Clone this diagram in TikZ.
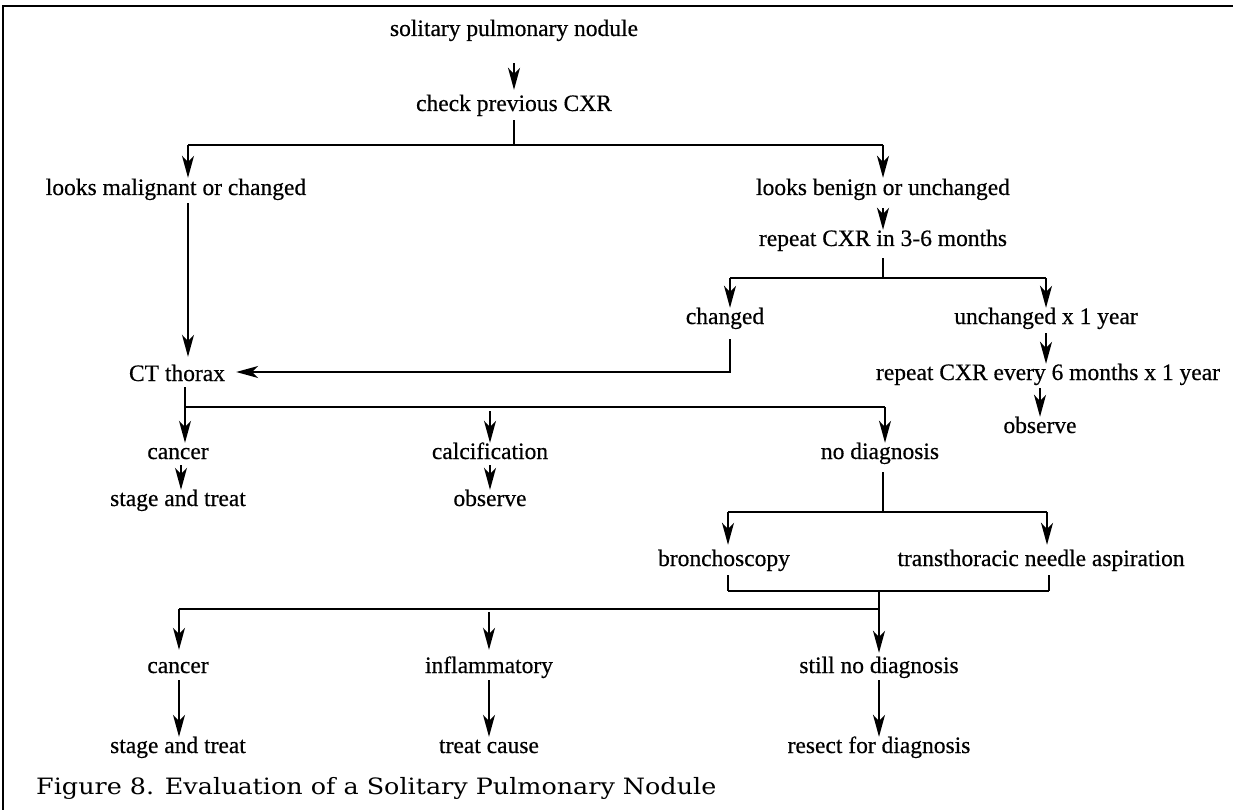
\documentclass[tikz,border=0pt]{standalone}
\usepackage{fontspec}
\setmainfont[FakeBold=0.5]{Liberation Serif}
\newfontfamily\capfont[FakeStretch=1.13]{DejaVu Serif}
\usetikzlibrary{arrows.meta,calc}

\tikzset{
  lbl/.style={inner sep=0pt, anchor=base, text height=16pt, text depth=5pt,
              font=\fontsize{23.5}{28}\selectfont},
  conn/.style={line width=1.5pt},
  arr/.style={conn, -{Stealth[length=22pt,width=12pt,inset=6pt]}},
  frame/.style={line width=1.8pt},
}

\begin{document}
\begin{tikzpicture}[x=1pt,y=-1pt]
\useasboundingbox (0,0) rectangle (1233,810);
\draw[frame] (3,810) -- (3,6) -- (1233,6);

% --- texts ---
\node[lbl] (sol)   at (514,36)  {solitary pulmonary nodule};
\node[lbl] (chk)   at (514,111) {check previous CXR};
\node[lbl] (lm)    at (176,195) {looks malignant or changed};
\node[lbl] (lb)    at (883,195) {looks benign or unchanged};
\node[lbl] (r36)   at (883,246) {repeat CXR in 3-6 months};
\node[lbl] (chg)   at (725,324) {changed};
\node[lbl] (unch)  at (1046,324) {unchanged x 1 year};
\node[lbl] (ct)    at (177,381) {CT thorax};
\node[lbl] (r6)    at (1048,380) {repeat CXR every 6 months x 1 year};
\node[lbl] (obsA)  at (1040,433) {observe};
\node[lbl] (canA)  at (178,459) {cancer};
\node[lbl] (calc)  at (490,459) {calcification};
\node[lbl] (nodx)  at (880,459) {no diagnosis};
\node[lbl] (stA)   at (178,506) {stage and treat};
\node[lbl] (obsB)  at (490,506) {observe};
\node[lbl] (bron)  at (724,566) {bronchoscopy};
\node[lbl] (tna)   at (1041,566) {transthoracic needle aspiration};
\node[lbl] (canB)  at (178,673) {cancer};
\node[lbl] (infl)  at (489,673) {inflammatory};
\node[lbl] (still) at (879,673) {still no diagnosis};
\node[lbl] (stB)   at (178,753) {stage and treat};
\node[lbl] (tc)    at (489,753) {treat cause};
\node[lbl] (res)   at (879,753) {resect for diagnosis};
\node[inner sep=0pt, anchor=base west, font=\capfont\fontsize{22.5}{27}\selectfont]
  (cap) at (36,794) {Figure 8. Evaluation of a Solitary Pulmonary Nodule};

% --- branching points ---
\coordinate (sA)  at (514,145);
\coordinate (sAl) at (188,145);
\coordinate (sAr) at (883,145);
\coordinate (sB)  at (883,278);
\coordinate (sBl) at (730,278);
\coordinate (sBr) at (1046,278);
\coordinate (bend) at (730,372);
\coordinate (sCl) at (185,407);
\coordinate (sCm) at (490,407);
\coordinate (sCr) at (885,407);
\coordinate (sD)  at (883,512);
\coordinate (sDl) at (728,512);
\coordinate (sDr) at (1047,512);
\coordinate (jEl) at (728,591);
\coordinate (jEm) at (879,591);
\coordinate (jEr) at (1049,591);
\coordinate (sFl) at (179,609);
\coordinate (sFm) at (489,609);
\coordinate (sFr) at (879,609);

% --- connectors ---
\draw[arr, shorten <=22pt, shorten >=5pt] (sol.south) -- (chk.north);
\draw[conn, shorten <=4pt] (chk.south) -- (sA);
\draw[conn] (sAl) -- (sAr);
\draw[arr, shorten >=1pt] (sAl) -- (sAl |- lm.north);
\draw[arr, shorten >=1pt] (sAr) -- (sAr |- lb.north);
\draw[arr, shorten <=3pt, shorten >=8pt] (lm.south -| sAl) -- (ct.north -| sAl);

\draw[arr, shorten <=8pt] (lb.south) -- (r36.north);
\draw[conn, shorten <=7pt] (r36.south) -- (sB);
\draw[conn] (sBl) -- (sBr);
\draw[arr] (sBl) -- (sBl |- chg.north);
\draw[arr] (sBr) -- (sBr |- unch.north);
\draw[arr, shorten <=10pt, shorten >=11pt] (chg.south -| sBl) -- (bend) -- (bend -| ct.east);
\draw[arr, shorten <=4pt] (unch.south) -- (unch.south |- r6.north);
\draw[arr, shorten <=3pt] (r6.south -| obsA) -- (obsA.north);

\draw[conn, shorten <=1pt] (ct.south -| sCl) -- (sCl);
\draw[conn] (sCl) -- (sCr);
\draw[arr] (sCl) -- (sCl |- canA.north);
\draw[arr, shorten <=4pt] (sCm) -- (sCm |- calc.north);
\draw[arr] (sCr) -- (sCr |- nodx.north);
\draw[arr, shorten <=1pt] (canA.south -| 181,0) -- (stA.north -| 181,0);
\draw[arr, shorten <=1pt] (calc.south -| sCm) -- (obsB.north -| sCm);

\draw[conn, shorten <=8pt] (nodx.south -| sD) -- (sD);
\draw[conn] (sDl) -- (sDr);
\draw[arr, shorten >=5pt] (sDl) -- (sDl |- bron.north);
\draw[arr, shorten >=5pt] (sDr) -- (sDr |- tna.north);
\draw[conn, shorten <=4pt] (bron.south -| jEl) -- (jEl);
\draw[conn, shorten <=4pt] (tna.south -| jEr) -- (jEr);
\draw[conn] (jEl) -- (jEr);
\draw[conn] (sFl) -- (sFr);
\draw[arr, shorten >=4pt] (jEm) -- (jEm |- still.north);
\draw[arr, shorten >=7pt] (sFl) -- (sFl |- canB.north);
\draw[arr, shorten <=3pt, shorten >=7pt] (sFm) -- (sFm |- infl.north);

\draw[arr, shorten <=2pt] (canB.south -| sFl) -- (stB.north -| sFl);
\draw[arr, shorten <=2pt] (infl.south -| sFm) -- (tc.north -| sFm);
\draw[arr, shorten <=2pt] (still.south -| sFr) -- (res.north -| sFr);
\end{tikzpicture}
\end{document}
